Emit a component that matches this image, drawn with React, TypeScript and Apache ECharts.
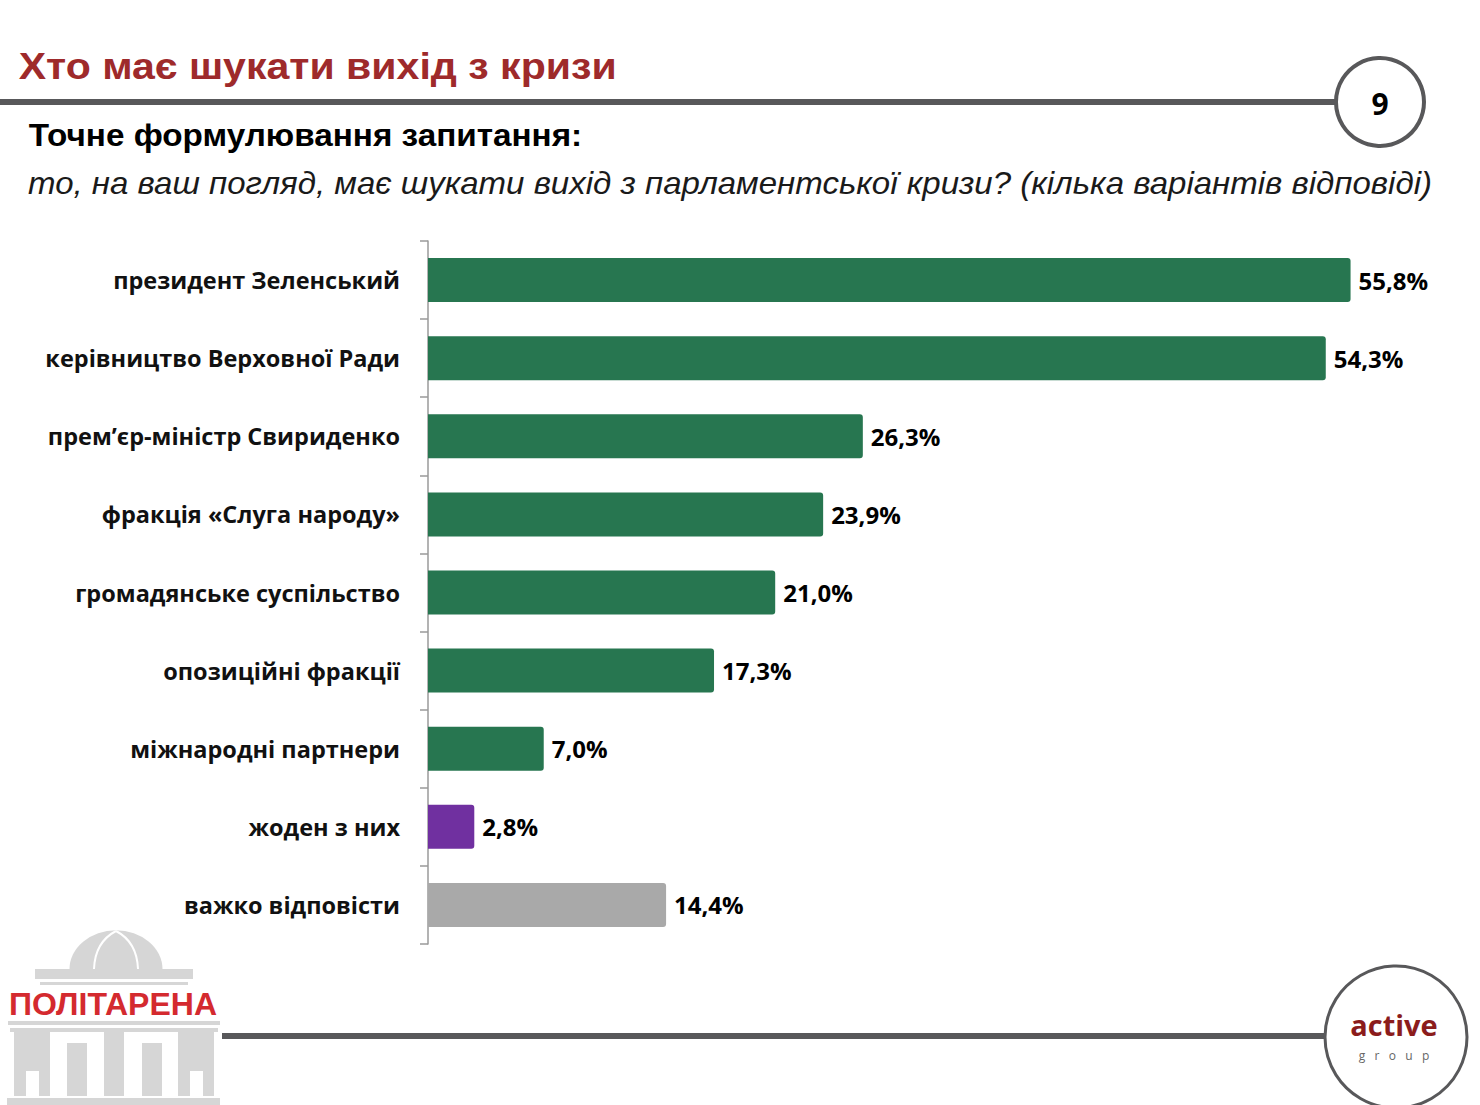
import React, { useEffect, useRef } from "react";
import * as echarts from "echarts";

const categories = [
  "президент Зеленський",
  "керівництво Верховної Ради",
  "прем’єр-міністр Свириденко",
  "фракція «Слуга народу»",
  "громадянське суспільство",
  "опозиційні фракції",
  "міжнародні партнери",
  "жоден з них",
  "важко відповісти",
];
const values = [55.8, 54.3, 26.3, 23.9, 21.0, 17.3, 7.0, 2.8, 14.4];
const GREEN = "#277650";
const PURPLE = "#7030A0";
const GREY = "#A9A9A9";
const barColors = [GREEN, GREEN, GREEN, GREEN, GREEN, GREEN, GREEN, PURPLE, GREY];

const titleText = "Хто має шукати вихід з кризи";
const subtitleText = "Точне формулювання запитання:";
const questionText =
  "то, на ваш погляд, має шукати вихід з парламентської кризи? (кілька варіантів відповіді)";
const pageNumber = "9";

const LOGO_GREY = "#D6D6D6";

export default function App() {
  const ref = useRef<HTMLDivElement>(null);
  useEffect(() => {
    if (!ref.current) return;
    const chart = echarts.init(ref.current, null, { renderer: "svg" });
    const sans = '"Liberation Sans", Arial, sans-serif';
    const labelFont = '"Open Sans", "Noto Sans", sans-serif';
    const graphic: any[] = [
      // header
      {
        type: "text",
        x: 21,
        y: 66,
        scaleX: 1.11,
        originX: 21,
        originY: 66,
        style: {
          text: titleText,
          font: `bold 37px ${sans}`,
          fill: "#9E2A2B",
          textAlign: "left",
          textVerticalAlign: "middle",
        },
      },
      { type: "rect", shape: { x: 0, y: 99, width: 1340, height: 6 }, style: { fill: "#58585A" } },
      {
        type: "circle",
        shape: { cx: 1380, cy: 102, r: 44 },
        style: { fill: "#fff", stroke: "#58585A", lineWidth: 4 },
      },
      {
        type: "text",
        x: 1380,
        y: 103,
        style: {
          text: pageNumber,
          font: `bold 30px ${labelFont}`,
          fill: "#000",
          textAlign: "center",
          textVerticalAlign: "middle",
        },
      },
      {
        type: "text",
        x: 30,
        y: 135,
        scaleX: 1.04,
        originX: 30,
        originY: 135,
        style: {
          text: subtitleText,
          font: `bold 32px ${sans}`,
          fill: "#000",
          textAlign: "left",
          textVerticalAlign: "middle",
        },
      },
      {
        type: "text",
        x: 30,
        y: 183,
        scaleX: 1.065,
        originX: 30,
        originY: 183,
        style: {
          text: questionText,
          font: `italic 31px ${sans}`,
          fill: "#1a1a1a",
          textAlign: "left",
          textVerticalAlign: "middle",
        },
      },
      // footer line + active group
      { type: "rect", shape: { x: 222, y: 1033, width: 1105, height: 6 }, style: { fill: "#58585A" } },
      {
        type: "circle",
        shape: { cx: 1396, cy: 1037, r: 71 },
        style: { fill: "#fff", stroke: "#58585A", lineWidth: 3 },
      },
      {
        type: "text",
        x: 1394,
        y: 1024,
        style: {
          text: "active",
          font: `bold 29px ${labelFont}`,
          fill: "#8B1C1C",
          textAlign: "center",
          textVerticalAlign: "middle",
        },
      },
      {
        type: "text",
        x: 1394,
        y: 1055,
        style: {
          text: "g   r   o   u   p",
          font: `12px ${labelFont}`,
          fill: "#666",
          textAlign: "center",
          textVerticalAlign: "middle",
        },
      },
      // Politarena logo
      {
        type: "sector",
        shape: { cx: 116, cy: 969, r: 46.5, r0: 0, startAngle: Math.PI, endAngle: Math.PI * 2 },
        scaleY: 39 / 46.5,
        originX: 116,
        originY: 969,
        style: { fill: LOGO_GREY },
      },
      {
        type: "bezierCurve",
        shape: { x1: 94, y1: 969, x2: 116, y2: 931, cpx1: 95, cpy1: 942 },
        style: { stroke: "#fff", lineWidth: 2, fill: null },
      },
      {
        type: "bezierCurve",
        shape: { x1: 138, y1: 969, x2: 116, y2: 931, cpx1: 137, cpy1: 942 },
        style: { stroke: "#fff", lineWidth: 2, fill: null },
      },
      { type: "rect", shape: { x: 35, y: 969, width: 158, height: 10 }, style: { fill: LOGO_GREY } },
      { type: "rect", shape: { x: 40, y: 982, width: 148, height: 3 }, style: { fill: LOGO_GREY } },
      {
        type: "text",
        x: 113,
        y: 1004,
        style: {
          text: "ПОЛІТАРЕНА",
          font: `bold 32px ${sans}`,
          fill: "#D42A2F",
          textAlign: "center",
          textVerticalAlign: "middle",
        },
      },
      { type: "rect", shape: { x: 8, y: 1021, width: 212, height: 4 }, style: { fill: LOGO_GREY } },
      { type: "rect", shape: { x: 10, y: 1028, width: 208, height: 4 }, style: { fill: LOGO_GREY } },
      { type: "rect", shape: { x: 14, y: 1032, width: 36, height: 64 }, style: { fill: LOGO_GREY } },
      { type: "rect", shape: { x: 26, y: 1071, width: 13, height: 25 }, style: { fill: "#fff" } },
      { type: "rect", shape: { x: 67, y: 1043, width: 20, height: 53 }, style: { fill: LOGO_GREY } },
      { type: "rect", shape: { x: 104, y: 1032, width: 20, height: 64 }, style: { fill: LOGO_GREY } },
      { type: "rect", shape: { x: 142, y: 1043, width: 20, height: 53 }, style: { fill: LOGO_GREY } },
      { type: "rect", shape: { x: 178, y: 1032, width: 36, height: 64 }, style: { fill: LOGO_GREY } },
      { type: "rect", shape: { x: 190, y: 1071, width: 13, height: 25 }, style: { fill: "#fff" } },
      { type: "rect", shape: { x: 7, y: 1098, width: 213, height: 7 }, style: { fill: LOGO_GREY } },
    ];

    chart.setOption({
      animation: false,
      backgroundColor: "#fff",
      grid: { left: 428, top: 241, width: 992, height: 703, containLabel: false },
      xAxis: {
        type: "value",
        min: 0,
        max: 60,
        show: false,
        splitLine: { show: false },
      },
      yAxis: {
        type: "category",
        data: categories,
        inverse: true,
        axisLine: { show: true, lineStyle: { color: "#9a9a9a", width: 1.5 } },
        axisTick: { show: true, length: 8, lineStyle: { color: "#9a9a9a", width: 1.5 } },
        axisLabel: {
          margin: 28,
          fontFamily: labelFont,
          fontWeight: "bold",
          fontSize: 23.5,
          color: "#111",
        },
      },
      series: [
        {
          type: "bar",
          barWidth: 44,
          data: values.map((v, i) => ({
            value: v,
            itemStyle: { color: barColors[i], borderRadius: [0, 3, 3, 0] },
          })),
          label: {
            show: true,
            position: "right",
            distance: 8,
            fontFamily: labelFont,
            fontWeight: "bold",
            fontSize: 24,
            color: "#000",
            formatter: (p: any) => p.value.toFixed(1).replace(".", ",") + "%",
          },
        },
      ],
      graphic,
    });
    return () => chart.dispose();
  }, []);
  return (
    <div
      ref={ref}
      style={{ position: "absolute", left: 0, top: 0, width: 1480, height: 1105, background: "#fff" }}
    />
  );
}
